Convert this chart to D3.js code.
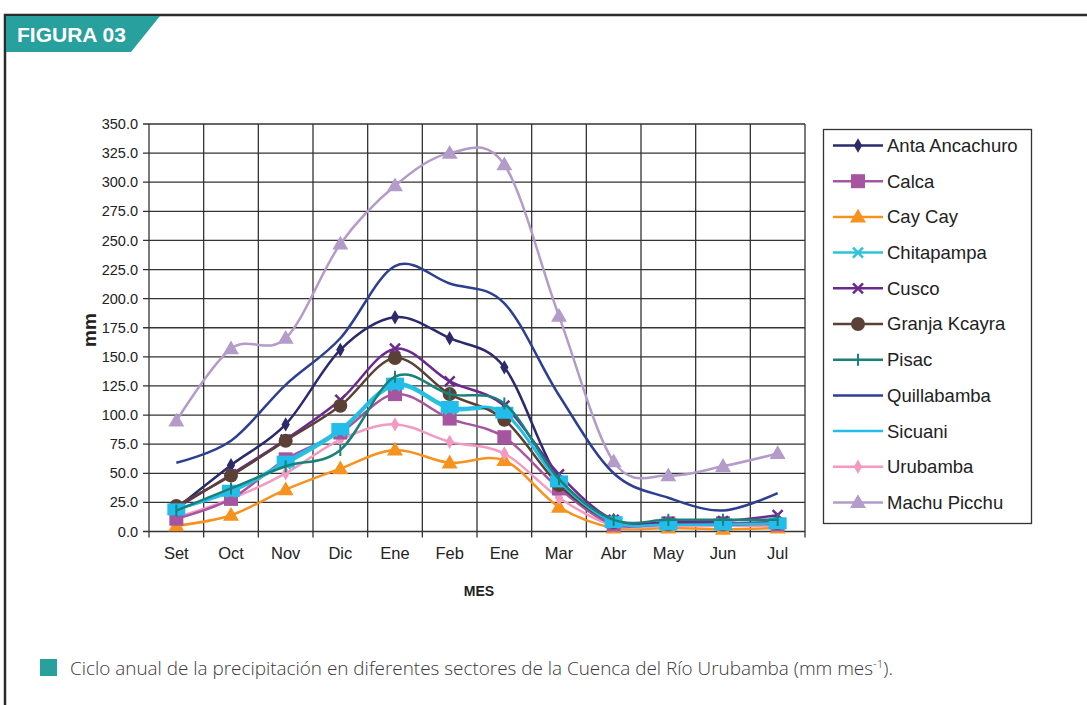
<!DOCTYPE html>
<html>
<head>
<meta charset="utf-8">
<script src="https://cdn.jsdelivr.net/npm/d3@7"></script>
<style>
  body { margin: 0; background: #fff; }
  svg { display: block; }
</style>
</head>
<body>
<div id="chart"></div>
<script>
// months on the x axis (two "Ene" in the original, kept as is)
const months = ["Set", "Oct", "Nov", "Dic", "Ene", "Feb", "Ene2", "Mar", "Abr", "May", "Jun", "Jul"];
const monthLabels = ["Set", "Oct", "Nov", "Dic", "Ene", "Feb", "Ene", "Mar", "Abr", "May", "Jun", "Jul"];
const yTicks = d3.range(0, 351, 25);

// series values (mm)
const antaAncachuro = [20, 57, 92, 156, 184, 166, 141, 45, 10, 7, 7, 8];
const calca        = [11, 28, 62, 85, 118, 97, 81, 37, 6, 7, 7, 6];
const cayCay       = [5, 14, 36, 54, 70, 59, 61, 21, 3, 3, 2, 3];
const chitapampa   = [19, 34, 58, 86, 125, 105, 101, 43, 8, 6, 6, 7];
const cusco        = [20, 49, 79, 113, 157, 129, 108, 49, 10, 8, 9, 14];
const granjaKcayra = [22, 48, 78, 108, 149, 118, 96, 40, 8, 6, 6, 7];
const pisac        = [18, 37, 56, 70, 133, 118, 110, 45, 10, 10, 10, 10];
const quillabamba  = [59, 78, 126, 166, 228, 213, 196, 117, 50, 29, 18, 33];
const sicuani      = [19, 35, 60, 88, 127, 107, 102, 43, 8, 6, 6, 7];
const urubamba     = [12, 28, 50, 79, 92, 77, 67, 29, 5, 5, 5, 5];
const machuPicchu  = [95, 157, 166, 247, 297, 325, 315, 185, 60, 48, 56, 67];

const seriesNames = ["Anta Ancachuro", "Calca", "Cay Cay", "Chitapampa", "Cusco",
  "Granja Kcayra", "Pisac", "Quillabamba", "Sicuani", "Urubamba", "Machu Picchu"];
const seriesValues = [antaAncachuro, calca, cayCay, chitapampa, cusco,
  granjaKcayra, pisac, quillabamba, sicuani, urubamba, machuPicchu];
const seriesColors = ["#2b2a6c", "#a656a0", "#f6921e", "#2cc3d5", "#6c2a8e",
  "#5b4036", "#1a807a", "#2c3f90", "#22bdea", "#f29ac2", "#b39bca"];
const seriesMarkers = ["diamond", "square", "triangle", "x", "x",
  "circle", "plus", "none", "dash", "diamond", "triangle"];
// legend shows a different glyph for Sicuani
const legendMarkers = ["diamond", "square", "triangle", "x", "x",
  "circle", "plus", "none", "none", "diamond", "triangle"];

const W = 1087, H = 705;
const margin = { top: 124, left: 149, right: 282, bottom: 173.5 };
const width = W - margin.left - margin.right,
      height = H - margin.top - margin.bottom;

const svg = d3.select("#chart").append("svg")
  .attr("width", W)
  .attr("height", H)
  .style("font-family", "'Liberation Sans', Arial, sans-serif");

// outer frame
svg.append("path")
  .attr("d", "M5,705 L5,15 L1087,15")
  .attr("fill", "none")
  .attr("stroke", "#2b2b2b")
  .attr("stroke-width", 2.5);

// header tab
svg.append("polygon")
  .attr("points", "6,16 160,16 131,52 6,52")
  .attr("fill", "#28a09e");
svg.append("text")
  .attr("x", 17).attr("y", 42)
  .attr("fill", "#fff")
  .style("font-size", "21px")
  .style("font-weight", "bold")
  .text("FIGURA 03");

const g = svg.append("g")
  .attr("transform", "translate(" + margin.left + "," + margin.top + ")");

const x = d3.scaleBand().domain(months).range([0, width]);
const y = d3.scaleLinear().domain([0, 350]).range([height, 0]);

// horizontal grid
g.append("g")
  .selectAll("line")
  .data(yTicks)
  .enter().append("line")
    .attr("x1", -6).attr("x2", width)
    .attr("y1", d => y(d)).attr("y2", d => y(d))
    .attr("stroke", "#333")
    .attr("stroke-width", 1.3);

// vertical grid at category boundaries
const bounds = months.map(m => x(m)).concat([width]);
g.append("g")
  .selectAll("line")
  .data(bounds)
  .enter().append("line")
    .attr("x1", d => d).attr("x2", d => d)
    .attr("y1", 0).attr("y2", height + 6)
    .attr("stroke", "#333")
    .attr("stroke-width", 1.3);

// y tick labels
g.append("g")
  .selectAll("text")
  .data(yTicks)
  .enter().append("text")
    .attr("x", -11)
    .attr("y", d => y(d))
    .attr("dy", "0.35em")
    .attr("text-anchor", "end")
    .attr("fill", "#222")
    .style("font-size", "14.5px")
    .text(d => d.toFixed(1));

// x tick labels
g.append("g")
  .selectAll("text")
  .data(months)
  .enter().append("text")
    .attr("x", d => x(d) + x.bandwidth() / 2)
    .attr("y", height + 27)
    .attr("text-anchor", "middle")
    .attr("fill", "#222")
    .style("font-size", "16.5px")
    .text((d, i) => monthLabels[i]);

// axis titles
svg.append("text")
  .attr("transform", "translate(96,330) rotate(-90)")
  .attr("text-anchor", "middle")
  .attr("fill", "#222")
  .style("font-size", "19px")
  .style("font-weight", "bold")
  .text("mm");

svg.append("text")
  .attr("x", 479).attr("y", 596)
  .attr("text-anchor", "middle")
  .attr("fill", "#222")
  .style("font-size", "14px")
  .style("font-weight", "bold")
  .text("MES");

// marker drawing helper
function drawMarker(sel, type, color, cx, cy) {
  if (type === "diamond") {
    sel.append("path").attr("d", d3.symbol(d3.symbolDiamond, 60)())
      .attr("transform", "translate(" + cx + "," + cy + ")").attr("fill", color);
  } else if (type === "square") {
    sel.append("rect").attr("x", cx - 7).attr("y", cy - 7)
      .attr("width", 14).attr("height", 14).attr("fill", color);
  } else if (type === "triangle") {
    sel.append("path").attr("d", d3.symbol(d3.symbolTriangle, 110)())
      .attr("transform", "translate(" + cx + "," + (cy + 1) + ")").attr("fill", color);
  } else if (type === "circle") {
    sel.append("circle").attr("cx", cx).attr("cy", cy).attr("r", 7).attr("fill", color);
  } else if (type === "x") {
    sel.append("path")
      .attr("d", "M" + (cx - 5) + "," + (cy - 5) + "L" + (cx + 5) + "," + (cy + 5) +
                 "M" + (cx - 5) + "," + (cy + 5) + "L" + (cx + 5) + "," + (cy - 5))
      .attr("stroke", color).attr("stroke-width", 2.5).attr("fill", "none");
  } else if (type === "plus") {
    sel.append("path")
      .attr("d", "M" + cx + "," + (cy - 6) + "L" + cx + "," + (cy + 6))
      .attr("stroke", color).attr("stroke-width", 2).attr("fill", "none");
  } else if (type === "dash") {
    sel.append("rect").attr("x", cx - 9).attr("y", cy - 6)
      .attr("width", 18).attr("height", 12).attr("fill", color);
  }
}

const line = d3.line()
  .x((d, i) => x(months[i]) + x.bandwidth() / 2)
  .y(d => y(d))
  .curve(d3.curveCatmullRom.alpha(0));

// draw Machu Picchu & Quillabamba first, then the rest
const drawOrder = [10, 7, 0, 2, 9, 1, 3, 4, 5, 8, 6];
drawOrder.forEach(k => {
  const sg = g.append("g");
  sg.append("path")
    .datum(seriesValues[k])
    .attr("d", line)
    .attr("fill", "none")
    .attr("stroke", seriesColors[k])
    .attr("stroke-width", 2.5);
  seriesValues[k].forEach((v, i) => {
    drawMarker(sg, seriesMarkers[k], seriesColors[k],
      x(months[i]) + x.bandwidth() / 2, y(v));
  });
});

// legend
const lg = svg.append("g");
lg.append("rect")
  .attr("x", 823.5).attr("y", 129.5)
  .attr("width", 208).attr("height", 394)
  .attr("fill", "#fff")
  .attr("stroke", "#333")
  .attr("stroke-width", 1.3);

seriesNames.forEach((name, k) => {
  const cy = 145.5 + k * 35.7;
  lg.append("line")
    .attr("x1", 833).attr("x2", 883)
    .attr("y1", cy).attr("y2", cy)
    .attr("stroke", seriesColors[k])
    .attr("stroke-width", 2.5);
  drawMarker(lg, legendMarkers[k], seriesColors[k], 858, cy);
  lg.append("text")
    .attr("x", 887).attr("y", cy)
    .attr("dy", "0.35em")
    .attr("fill", "#222")
    .style("font-size", "18.5px")
    .text(name);
});

// caption
svg.append("rect")
  .attr("x", 40).attr("y", 659)
  .attr("width", 17).attr("height", 17)
  .attr("fill", "#28a09e");
const cap = svg.append("text")
  .attr("x", 70).attr("y", 675)
  .attr("fill", "#3a3a3a")
  .attr("textLength", 823)
  .attr("lengthAdjust", "spacingAndGlyphs")
  .style("font-family", "'Open Sans', sans-serif")
  .style("font-weight", 300)
  .style("font-size", "18px");
cap.append("tspan").text("Ciclo anual de la precipitación en diferentes sectores de la Cuenca del Río Urubamba (mm mes");
cap.append("tspan").attr("baseline-shift", "super").style("font-size", "11px").text("-1");
cap.append("tspan").text(").");
</script>
</body>
</html>
